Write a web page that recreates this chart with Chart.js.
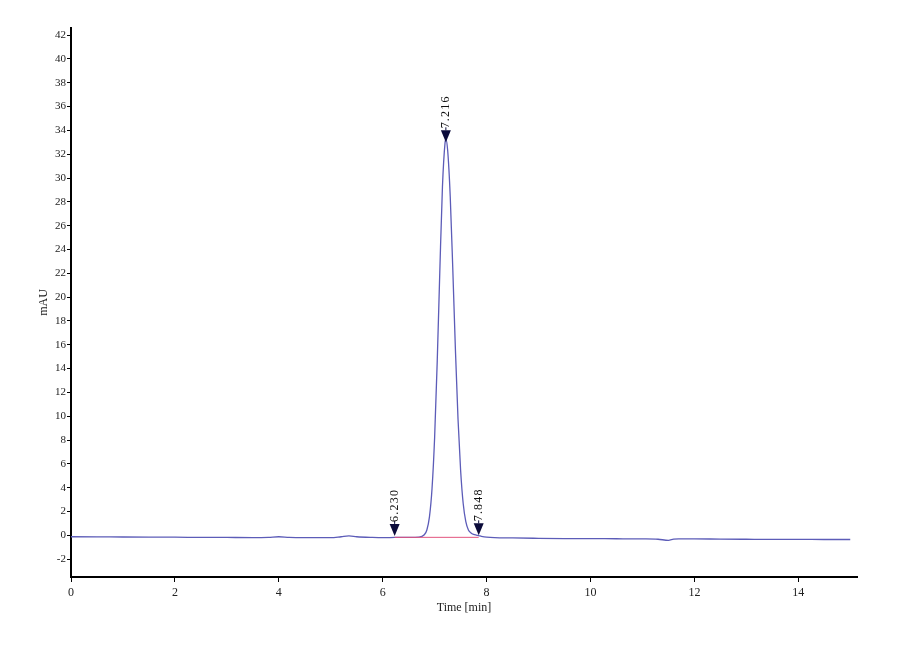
<!DOCTYPE html>
<html lang="en">
<head>
<meta charset="UTF-8">
<title>Chromatogram</title>
<script src="https://cdn.jsdelivr.net/npm/chart.js"></script>
<style>
  html, body { margin: 0; padding: 0; background: #fff; }
  canvas { display: block; }
</style>
</head>
<body>
<canvas id="chrom" width="900" height="660"></canvas>
<script>
// signal (time in min, absorbance in mAU)
const times = [0, 0.5, 1, 1.5, 2, 2.5, 3, 3.5, 3.8, 4.0, 4.2, 4.5, 5.0, 5.2, 5.35, 5.5, 5.8, 6.0, 6.23, 6.5, 6.7, 6.8,
  6.85, 6.9, 6.95, 7.0, 7.05, 7.1, 7.15, 7.2, 7.216, 7.25, 7.3, 7.35, 7.4, 7.45, 7.5, 7.55, 7.6, 7.65, 7.7, 7.75,
  7.8, 7.848, 7.9, 8.0, 8.5, 9, 9.5, 10, 10.5, 11, 11.3, 11.5, 11.6, 11.7, 12, 12.5, 13, 13.5, 14, 14.5, 15];
const mAU = [-0.12, -0.13, -0.14, -0.15, -0.16, -0.17, -0.18, -0.19, -0.17, -0.12, -0.18, -0.2, -0.2, -0.12, -0.05, -0.12, -0.18, -0.2, -0.18, -0.17, -0.15, 0.05,
  0.45, 1.55, 3.95, 8.25, 14.65, 22.25, 29.25, 32.95, 33.25, 32.35, 28.45, 22.25, 15.55, 9.75, 5.45, 2.65, 1.15, 0.45, 0.2, 0.08,
  0.02, -0.02, -0.08, -0.15, -0.22, -0.25, -0.27, -0.28, -0.29, -0.3, -0.33, -0.42, -0.32, -0.3, -0.3, -0.32, -0.33, -0.34, -0.34, -0.35, -0.35];

// integration baseline
const baseTimes = [6.23, 7.848];
const baseValues = [-0.17, -0.17];

// peak markers
const peakTimes = [6.230, 7.216, 7.848];
const peakTips = [-0.05, 33.0, 0.0];
const peakLabels = ['6.230', '7.216', '7.848'];

const xTicks = [0, 2, 4, 6, 8, 10, 12, 14];
const yTicks = [-2, 0, 2, 4, 6, 8, 10, 12, 14, 16, 18, 20, 22, 24, 26, 28, 30, 32, 34, 36, 38, 40, 42];

const serif = '"Liberation Serif", "DejaVu Serif", serif';

const peakMarks = {
  id: 'peakMarks',
  afterDatasetsDraw(chart) {
    const ctx = chart.ctx;
    const xs = chart.scales.x, ys = chart.scales.y;
    ctx.save();
    peakTimes.forEach((t, i) => {
      const px = xs.getPixelForValue(t);
      const py = ys.getPixelForValue(peakTips[i]);
      ctx.fillStyle = '#0b0b3a';
      ctx.beginPath();
      ctx.moveTo(px, py);
      ctx.lineTo(px - 5, py - 12);
      ctx.lineTo(px + 5, py - 12);
      ctx.closePath();
      ctx.fill();
      ctx.strokeStyle = '#0b0b3a';
      ctx.lineWidth = 1;
      ctx.beginPath();
      ctx.moveTo(px, py - 12);
      ctx.lineTo(px, py - 15);
      ctx.stroke();
      ctx.translate(px, py - 14);
      ctx.rotate(-Math.PI / 2);
      ctx.fillStyle = '#111';
      ctx.font = '12px ' + serif;
      ctx.textAlign = 'left';
      ctx.textBaseline = 'middle';
      ctx.letterSpacing = '1.2px';
      ctx.fillText(peakLabels[i], 0, 0);
      ctx.setTransform(1, 0, 0, 1, 0, 0);
    });
    ctx.restore();
  }
};

new Chart(document.getElementById('chrom').getContext('2d'), {
  type: 'line',
  data: {
    datasets: [{
      data: baseTimes.map((t, i) => ({ x: t, y: baseValues[i] })),
      borderColor: '#e2557f',
      borderWidth: 1,
      pointRadius: 0
    }, {
      data: times.map((t, i) => ({ x: t, y: mAU[i] })),
      borderColor: '#5c5cb8',
      borderWidth: 1.3,
      pointRadius: 0,
      cubicInterpolationMode: 'monotone'
    }]
  },
  options: {
    responsive: false,
    animation: false,
    layout: { padding: { left: 37, top: 28, right: 43, bottom: 45 } },
    plugins: { legend: { display: false }, tooltip: { enabled: false } },
    scales: {
      x: {
        type: 'linear',
        min: 0,
        max: 15.13,
        afterBuildTicks: axis => { axis.ticks = xTicks.map(v => ({ value: v })); },
        afterFit: scale => { scale.height = 38; },
        grid: { display: true, drawOnChartArea: false, drawTicks: true, tickLength: 5, color: '#000', lineWidth: 1 },
        border: { display: true, color: '#000', width: 2 },
        ticks: { color: '#222', font: { family: serif, size: 12 }, padding: 4, maxRotation: 0 },
        title: { display: true, text: 'Time [min]', color: '#222', font: { family: serif, size: 12 }, padding: { top: 0, bottom: 0 } }
      },
      y: {
        type: 'linear',
        min: -3.5,
        max: 42.6,
        afterBuildTicks: axis => { axis.ticks = yTicks.map(v => ({ value: v })); },
        afterFit: scale => { scale.width = 34; },
        grid: { display: true, drawOnChartArea: false, drawTicks: true, tickLength: 4, color: '#000', lineWidth: 1 },
        border: { display: true, color: '#000', width: 2 },
        ticks: { color: '#222', font: { family: serif, size: 11 }, padding: 1 },
        title: { display: true, text: 'mAU', color: '#222', font: { family: serif, size: 12 }, padding: 0 }
      }
    }
  },
  plugins: [peakMarks]
});
</script>
</body>
</html>
